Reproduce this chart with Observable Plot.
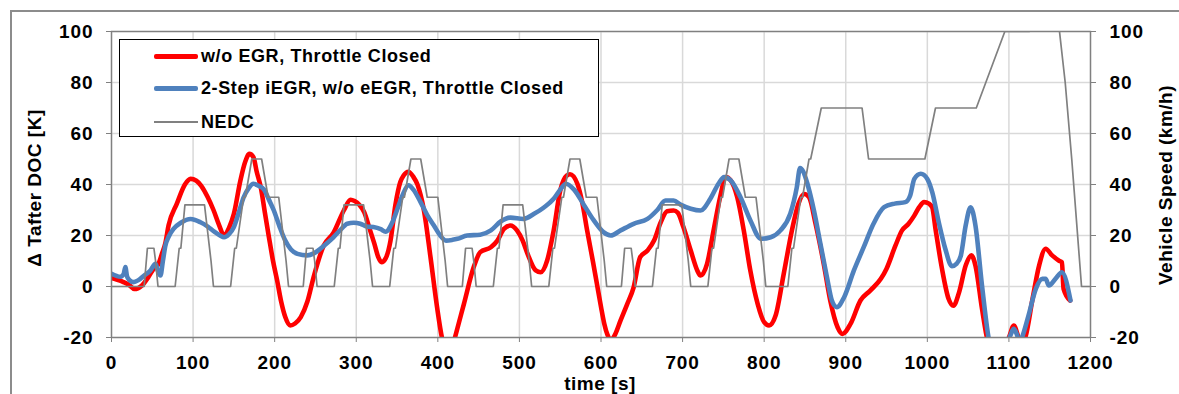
<!DOCTYPE html>
<html><head><meta charset="utf-8">
<script src="https://cdn.jsdelivr.net/npm/d3@7"></script>
<script src="https://cdn.jsdelivr.net/npm/@observablehq/plot@0.6"></script>
<style>
body{margin:0;background:#fff;overflow:hidden;font-family:"Liberation Sans",Arial,sans-serif;}
#wrap{position:relative;width:1179px;height:394px;overflow:hidden;}
#border{position:absolute;left:10px;top:10px;width:1200px;height:420px;border:2px solid #8c8c8c;box-sizing:border-box;}
#chart{position:absolute;left:0;top:0;}
#chart svg text{letter-spacing:0.9px;}
.lbl{position:absolute;font-weight:bold;font-size:19px;white-space:nowrap;color:#000;letter-spacing:0.5px;}
#legend{position:absolute;left:119px;top:39px;width:480px;height:98px;border:1px solid #000;background:#fff;box-sizing:border-box;}
.lg-line{position:absolute;left:34px;width:44px;}
.lg-text{position:absolute;left:81px;font-weight:bold;font-size:18px;line-height:20px;white-space:pre;letter-spacing:0.6px;}
</style>
</head><body>
<div id="wrap">
  <div id="border"></div>
  <div id="chart"></div>
  <div id="legend">
    <div class="lg-line" style="top:14px;height:5px;background:#ff0000;border-radius:2px"></div>
    <div class="lg-text" style="top:6px">w/o EGR, Throttle Closed</div>
    <div class="lg-line" style="top:46px;height:5px;background:#4f81bd;border-radius:2px"></div>
    <div class="lg-text" style="top:38px">2-Step iEGR, w/o eEGR, Throttle Closed</div>
    <div class="lg-line" style="top:81px;height:2px;background:#808080"></div>
    <div class="lg-text" style="top:72px">NEDC</div>
  </div>
  <div class="lbl" style="left:35px;top:188px;transform:translate(-50%,-50%) rotate(-90deg)">Δ Tafter DOC [K]</div>
  <div class="lbl" style="left:1166px;top:185px;transform:translate(-50%,-50%) rotate(-90deg)">Vehicle Speed (km/h)</div>
  <div class="lbl" style="left:600px;top:373px;transform:translateX(-50%)">time [s]</div>
</div>
<script>
const xTicks = [0,100,200,300,400,500,600,700,800,900,1000,1100,1200];
const yTicks = [-20,0,20,40,60,80,100];

const redNoEGR = [[0,3.3],[14,1.8],[22,0.5],[28,-1],[37,0.3],[45,3.6],[53,7.5],[57,8.5],[62,13],[66,17],[70,24],[80,32.4],[90,40],[97,42.2],[104,41.5],[110,39.5],[118,35],[125,30],[132,24],[138,20],[144,23],[150,28.5],[158,41.6],[164,49],[169,52],[174,50.7],[178,45],[183,38.9],[188,29],[193,19.3],[198,10],[203,2.4],[208,-6],[213,-12],[219,-15.3],[225,-14.5],[232,-12],[240,-6],[248,4],[260,16],[272,21],[285,30],[293,34],[298,33.5],[304,32],[310,29],[316,23],[322,17],[327,11.5],[331,9.5],[336,11],[342,18],[348,32],[354,41],[358,43.5],[364,45],[370,43],[375,40],[383,29.8],[391,11.5],[399,-8],[405,-20],[409,-25],[413,-27],[417,-25],[421,-20],[432,-6.8],[444,7.6],[452,13.5],[465,15.4],[473,18],[481,22.6],[489,23.9],[497,22],[504,18],[510,12.8],[520,6.3],[526,5.6],[534,10.2],[542,22],[550,37.6],[558,43.5],[562,44],[571,40.3],[577,33],[583,22],[590,10],[595,1],[600,-8],[604,-14.6],[608,-19],[612,-21],[617,-19],[624,-13.3],[632,-7],[640,-0.3],[648,11.5],[657,14.1],[665,18],[673,25],[681,29.5],[689,29.8],[694,29],[701,23.3],[710,14.1],[718,6.3],[722,4.3],[730,8.9],[738,22],[746,35],[753,42.9],[759,41.6],[767,35],[775,22],[783,6.3],[792,-6.8],[800,-14],[806,-15.3],[814,-11.4],[824,5],[834,22],[842,32.4],[849,36.3],[855,35],[863,24.6],[873,8.9],[881,-5.5],[890,-16],[896,-18.6],[906,-14.6],[918,-5.5],[930,-1.6],[943,3],[950,7],[961,16.1],[969,22],[977,24.6],[984,27.8],[990,31.1],[996,33.1],[1002,32.5],[1006,31],[1010,22.6],[1018,6.9],[1026,-4.8],[1032,-7.5],[1039,-2.2],[1047,8.2],[1054,12.2],[1059,8.2],[1067,-8.7],[1073,-20],[1080,-28],[1090,-28],[1097,-22],[1100,-20],[1106,-15.3],[1112,-20],[1116,-22],[1120,-20],[1129,-4.8],[1137,8.2],[1145,14.8],[1153,12.2],[1161,10.2],[1165,9.5],[1167,-0.9],[1175,-5.5]];

const blueIEGR = [[0,5],[11,3.8],[15,5],[17,7.6],[19,4],[22,2.5],[27,1.7],[33,2.5],[40,4.3],[47,6],[54,8.9],[57,6],[60,4.3],[63,10],[66,16],[70,19.5],[76,22.6],[85,25],[97,26.5],[109,25.2],[118,23.5],[126,21.5],[133,20],[138,19.3],[144,20.5],[150,23.3],[156,29],[162,35],[168,38.5],[174,40.3],[180,39.5],[187,38],[193,34],[199,29.8],[206,23.5],[213,18],[220,14.5],[228,12.8],[240,12.2],[248,13],[256,14.8],[264,17],[272,19.3],[280,22],[289,24.6],[297,25],[305,24.6],[313,23.5],[321,23.3],[330,22.5],[336,21.5],[344,25],[350,30],[357,36],[364,39.7],[370,38],[379,33],[387,28],[395,24],[403,20],[410,18],[418,18.3],[424,18.7],[436,20],[452,20.3],[465,22],[477,25.5],[489,27],[505,26.5],[518,28.5],[530,31],[542,34.4],[550,38],[557,40.3],[567,38],[579,32],[591,26],[603,21.3],[612,20],[624,22],[640,24.6],[657,26.5],[669,30],[679,33.7],[689,33.7],[698,32],[710,30.5],[722,29.8],[734,34.4],[744,40.3],[751,42.9],[759,41.6],[771,35],[783,26],[796,18.7],[808,19.3],[820,22],[832,28.5],[840,38.9],[844,46.5],[848,45],[853,40.3],[861,29.8],[869,16.7],[877,3.6],[883,-5.5],[889,-8.1],[898,-4.2],[910,6.3],[922,15.4],[934,24.6],[947,31.1],[960,32.5],[973,33.1],[979,35.7],[984,42.2],[992,44.2],[1000,42.2],[1006,37],[1014,25.2],[1022,14.8],[1030,8],[1036,9],[1041,12],[1047,23.9],[1053,31.1],[1059,23.9],[1067,0.4],[1075,-20],[1085,-30],[1095,-25],[1102,-19],[1106,-16.6],[1110,-19],[1113,-22],[1116,-20],[1124,-11.4],[1133,-0.9],[1141,3],[1145,3],[1149,0.4],[1157,3],[1165,5.6],[1175.5,-5.5]];

const nedcSpeed = [[0,0],[40,0],[44,15],[52,15],[54,10],[57,0],[78,0],[83,15],[85,15],[90,32],[114,32],[122,10],[125,0],[146,0],[151,15],[153,15],[162,35],[164,35],[172,50],[184,50],[192,35],[205,35],[214,10],[217,0],
[235,0],[239,15],[247,15],[249,10],[252,0],[273,0],[278,15],[280,15],[285,32],[309,32],[317,10],[320,0],[341,0],[346,15],[348,15],[357,35],[359,35],[367,50],[379,50],[387,35],[400,35],[409,10],[412,0],
[430,0],[434,15],[442,15],[444,10],[447,0],[468,0],[473,15],[475,15],[480,32],[504,32],[512,10],[515,0],[536,0],[541,15],[543,15],[552,35],[554,35],[562,50],[574,50],[582,35],[595,35],[604,10],[607,0],
[625,0],[629,15],[637,15],[639,10],[642,0],[663,0],[668,15],[670,15],[675,32],[699,32],[707,10],[710,0],[731,0],[736,15],[738,15],[747,35],[749,35],[757,50],[769,50],[777,35],[790,35],[799,10],[802,0],
[829,0],[834,15],[836,15],[845,35],[847,35],[855,50],[857,50],[870,70],[920,70],[928,50],[997,50],[1010,70],[1060,70],[1095,100],[1125,100],[1145,120],[1155,120],[1169,80],[1177,50],[1189,0],[1200,0]];

const toRows = arr => arr.map(([t, v]) => ({t, v}));
const plain = d => String(d);

const chart = Plot.plot({
  width: 1179, height: 394,
  marginLeft: 111, marginRight: 89, marginTop: 31, marginBottom: 57,
  x: {domain: [0, 1200]},
  y: {domain: [-20, 100]},
  style: {fontFamily: "'Liberation Sans', Arial, sans-serif", fontSize: "19px", fontWeight: "bold", color: "#000", background: "transparent", overflow: "visible"},
  marks: [
    Plot.gridX(xTicks, {stroke: "#d9d9d9", strokeOpacity: 1, strokeWidth: 1.5}),
    Plot.gridY(yTicks, {stroke: "#d9d9d9", strokeOpacity: 1, strokeWidth: 1.5}),
    Plot.line(toRows(redNoEGR), {x: "t", y: "v", stroke: "#ff0000", strokeWidth: 4.6, curve: "monotone-x", clip: true}),
    Plot.line(toRows(blueIEGR), {x: "t", y: "v", stroke: "#4f81bd", strokeWidth: 4.6, curve: "monotone-x", clip: true}),
    Plot.line(toRows(nedcSpeed), {x: "t", y: "v", stroke: "#808080", strokeWidth: 1.7, clip: true}),
    Plot.frame({stroke: "#808080", strokeWidth: 1.4}),
    Plot.axisX(xTicks, {tickSize: 5, tickPadding: 13, stroke: "#808080", label: null, tickFormat: plain}),
    Plot.axisY(yTicks, {anchor: "left", tickSize: 5, tickPadding: 13, stroke: "#808080", label: null, tickFormat: plain}),
    Plot.axisY(yTicks, {anchor: "right", tickSize: 5, tickPadding: 14, stroke: "#808080", label: null, tickFormat: plain})
  ]
});
document.getElementById("chart").appendChild(chart);
</script>
</body></html>
